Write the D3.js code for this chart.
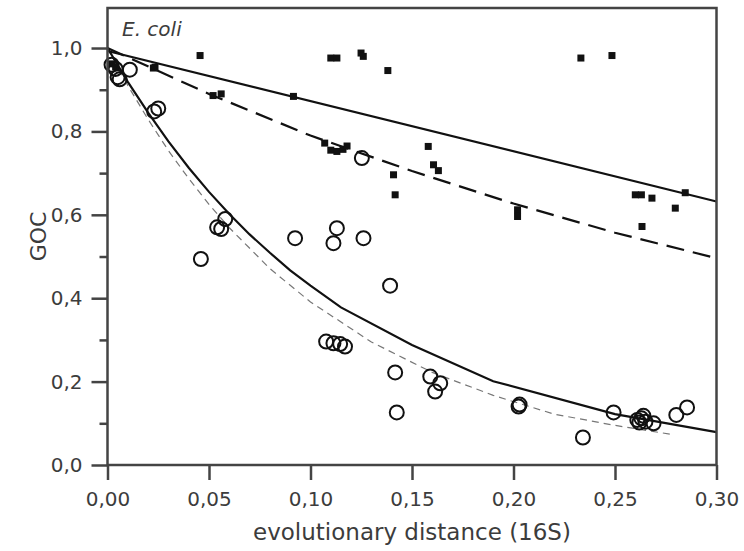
<!DOCTYPE html>
<html><head><meta charset="utf-8">
<script src="https://cdn.jsdelivr.net/npm/d3@7"></script>
<style>body{margin:0;background:#fff}svg{display:block}</style>
</head><body>
<svg id="c" width="744" height="551"></svg>
<script>
// ---- data ----
const xTicks = [0, 0.05, 0.10, 0.15, 0.20, 0.25, 0.30];
const xTickLabels = ["0,00","0,05","0,10","0,15","0,20","0,25","0,30"];
const yTicks = [0, 0.2, 0.4, 0.6, 0.8, 1.0];
const yTickLabels = ["0,0","0,2","0,4","0,6","0,8","1,0"];
const yMinorTicks = [0.1, 0.3, 0.5, 0.7, 0.9];

const squaresX = [0.002,0.004,0.0226,0.0234,0.0456,0.052,0.056,0.0916,0.107,0.110,0.110,0.113,0.113,0.116,0.118,0.1249,0.126,0.1381,0.1409,0.1417,0.158,0.1606,0.163,0.202,0.202,0.2332,0.2485,0.260,0.263,0.2633,0.2682,0.2797,0.2846];
const squaresY = [0.962,0.955,0.952,0.954,0.982,0.886,0.890,0.884,0.772,0.976,0.755,0.976,0.752,0.757,0.765,0.988,0.980,0.946,0.696,0.648,0.764,0.720,0.706,0.612,0.596,0.976,0.982,0.648,0.648,0.572,0.640,0.616,0.653];

const circlesX = [0.002,0.004,0.005,0.006,0.011,0.023,0.025,0.046,0.054,0.056,0.058,0.0924,0.1113,0.113,0.1253,0.1261,0.1392,0.1077,0.1113,0.1146,0.117,0.1417,0.1425,0.159,0.1614,0.1639,0.2025,0.203,0.2342,0.2493,0.261,0.262,0.263,0.264,0.265,0.269,0.2802,0.2855];
const circlesY = [0.960,0.950,0.930,0.925,0.948,0.848,0.855,0.494,0.570,0.566,0.590,0.544,0.532,0.568,0.736,0.544,0.430,0.296,0.292,0.290,0.284,0.222,0.126,0.212,0.176,0.196,0.140,0.145,0.066,0.126,0.108,0.102,0.112,0.118,0.104,0.100,0.120,0.138];

const upperSolidX = [0, 0.30];
const upperSolidY = [0.993, 0.632];
const upperDashedX = [0, 0.05, 0.10, 0.15, 0.20, 0.25, 0.30];
const upperDashedY = [1.0, 0.89, 0.79, 0.705, 0.627, 0.557, 0.496];
const lowerSolidX = [0, 0.01, 0.02, 0.03, 0.04, 0.05, 0.06, 0.07, 0.08, 0.09, 0.10, 0.115, 0.15, 0.19, 0.25, 0.30];
const lowerSolidY = [1.0, 0.919, 0.845, 0.776, 0.713, 0.655, 0.602, 0.553, 0.509, 0.467, 0.43, 0.378, 0.288, 0.201, 0.122, 0.079];
const lowerDashedX = [0, 0.01, 0.02, 0.03, 0.04, 0.05, 0.06, 0.08, 0.10, 0.13, 0.16, 0.19, 0.22, 0.25, 0.277];
const lowerDashedY = [1.0, 0.91, 0.829, 0.754, 0.687, 0.625, 0.569, 0.471, 0.391, 0.295, 0.222, 0.167, 0.122, 0.095, 0.074];

// ---- layout ----
const svg = d3.select("#c");
const L = 107.5, R = 716.5, T = 8, B = 465;
const x = d3.scaleLinear().domain([0, 0.30]).range([L, R]);
const y = d3.scaleLinear().domain([0, 1.096]).range([B, T]);
const axisColor = "#444", textColor = "#3c3c3c";
const font = "'DejaVu Sans', Verdana, sans-serif";

// curves
const line = d3.line().x(d => x(d[0])).y(d => y(d[1]));
const zip = (a, b) => a.map((v, i) => [v, b[i]]);
const g = svg.append("g");
g.append("path").attr("d", line(zip(lowerDashedX, lowerDashedY)))
  .attr("fill","none").attr("stroke","#777").attr("stroke-width",1.2).attr("stroke-dasharray","7,5");
g.append("path").attr("d", line(zip(upperDashedX, upperDashedY)))
  .attr("fill","none").attr("stroke","#111").attr("stroke-width",2.2).attr("stroke-dasharray","18,9");
g.append("path").attr("d", line(zip(upperSolidX, upperSolidY)))
  .attr("fill","none").attr("stroke","#111").attr("stroke-width",2.2);
g.append("path").attr("d", line(zip(lowerSolidX, lowerSolidY)))
  .attr("fill","none").attr("stroke","#111").attr("stroke-width",2.2);

// squares
g.selectAll("rect.sq").data(zip(squaresX, squaresY)).join("rect").attr("class","sq")
  .attr("x", d => x(d[0]) - 3.5).attr("y", d => y(d[1]) - 3.5)
  .attr("width", 7).attr("height", 7).attr("fill", "#111");
// circles
g.selectAll("circle").data(zip(circlesX, circlesY)).join("circle")
  .attr("cx", d => x(d[0])).attr("cy", d => y(d[1])).attr("r", 7)
  .attr("fill", "none").attr("stroke", "#111").attr("stroke-width", 2);

// frame
svg.append("rect").attr("x", L).attr("y", T).attr("width", R - L).attr("height", B - T)
  .attr("fill","none").attr("stroke", axisColor).attr("stroke-width", 2.5);

// x axis
const xAxis = d3.axisBottom(x).tickValues(xTicks).tickSize(15).tickPadding(12)
  .tickFormat((d, i) => xTickLabels[i]);
const xa = svg.append("g").attr("transform", `translate(0,${B})`).call(xAxis);
xa.select(".domain").remove();
xa.selectAll(".tick line").attr("stroke", axisColor).attr("stroke-width", 2.5);
xa.selectAll(".tick text").attr("fill", textColor).attr("font-family", font).attr("font-size", 20);

// y axis
const yAxis = d3.axisLeft(y).tickValues(yTicks).tickSize(16).tickPadding(9)
  .tickFormat((d, i) => yTickLabels[i]);
const ya = svg.append("g").attr("transform", `translate(${L},0)`).call(yAxis);
ya.select(".domain").remove();
ya.selectAll(".tick line").attr("stroke", axisColor).attr("stroke-width", 2.5);
ya.selectAll(".tick text").attr("fill", textColor).attr("font-family", font).attr("font-size", 20);
const yMinor = d3.axisLeft(y).tickValues(yMinorTicks).tickSize(8).tickFormat("");
const ym = svg.append("g").attr("transform", `translate(${L},0)`).call(yMinor);
ym.select(".domain").remove();
ym.selectAll(".tick line").attr("stroke", axisColor).attr("stroke-width", 2.5);

// titles
svg.append("text").attr("x", (L + R) / 2).attr("y", 540).attr("text-anchor","middle")
  .attr("fill", textColor).attr("font-family", font).attr("font-size", 23)
  .text("evolutionary distance (16S)");
svg.append("text").attr("transform", `translate(46,${(T + B) / 2}) rotate(-90)`)
  .attr("text-anchor","middle").attr("fill", textColor).attr("font-family", font).attr("font-size", 22)
  .text("GOC");
svg.append("text").attr("x", 122).attr("y", 36).attr("fill", textColor)
  .attr("font-family", font).attr("font-style","italic").attr("font-size", 20).text("E. coli");
</script>
</body></html>
